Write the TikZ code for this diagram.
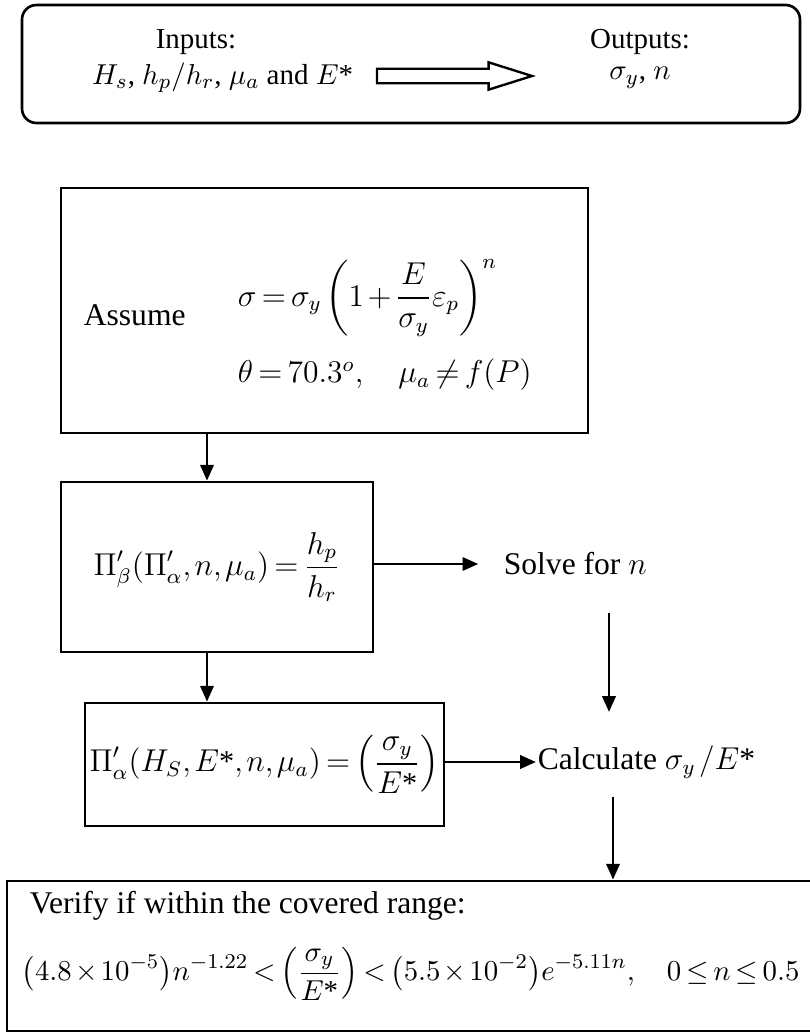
\documentclass[tikz,border=0pt]{standalone}
\usepackage{amsmath}
\usepackage{fontspec}
\setmainfont{Liberation Serif}
\usetikzlibrary{arrows.meta,positioning,shapes.arrows}

% tighter math spacing, closer to the original's
\thinmuskip=2mu
\medmuskip=2mu plus 1mu
\thickmuskip=3mu plus 2mu

\tikzset{
  box/.style={draw,line width=1pt,inner sep=0pt},
  lbl/.style={inner sep=0.5pt},
  small/.style={font=\fontsize{11}{13}\selectfont},
  arr/.style={line width=1.1pt,-{Triangle[length=6pt,width=5pt]}}
}

\begin{document}
\begin{tikzpicture}[x=0.38pt,y=-0.38pt,font=\fontsize{12}{14}\selectfont]
    \useasboundingbox (0,0) rectangle (809,1032);

    % Inputs and outputs
    \node[box,rounded corners=5.5pt,minimum width=778*0.38pt,minimum height=118*0.38pt] (io) at (411,64) {};
    \node[lbl,small] (inlbl) at (196,42) {Inputs:};
    \node[lbl,small,anchor=east] (inval) at (355,78) {$H_s$, $h_p/h_r$, $\mu_a$ and $E$*};
    \node[single arrow,draw,line width=0.9pt,inner sep=2.3pt,single arrow head extend=2.45pt,
          single arrow tip angle=35,minimum height=155*0.38pt] (bigarr) at (443,76) {};
    \node[lbl,small] (outlbl) at (640,42) {Outputs:};
    \node[lbl,small] (outval) at (640,78) {$\sigma_y$, $n$};

    % Assumptions
    \node[box,minimum width=527*0.38pt,minimum height=245*0.38pt] (assume) at (324.5,310.5) {};
    \node[lbl,anchor=west] (asmtxt) at (82,315) {Assume};
    \node[lbl,anchor=west] (law) at (236,298) {$\displaystyle \sigma=\sigma_y\left(1+\frac{E}{\sigma_y}\varepsilon_p\right)^{n}$};
    \node[lbl,anchor=west] (cond) at (236,375) {$\theta=70.3^{o},\quad \mu_a\neq f(P)$};

    % Pi functions
    \node[box,minimum width=312*0.38pt,minimum height=170*0.38pt] (pib) at (217,567)
        {$\displaystyle \Pi'_\beta(\Pi'_\alpha,n,\mu_a)=\frac{h_p}{h_r}$};
    \node[box,font=\fontsize{11.5}{13}\selectfont,minimum width=359*0.38pt,minimum height=123*0.38pt] (pia) at (264.5,764.5)
        {$\displaystyle \Pi'_\alpha(H_S,E\text{*},n,\mu_a)=\left(\frac{\sigma_y}{E\text{*}}\right)$};

    \node[lbl,anchor=west] (solve) at (502,564) {Solve for $n$};
    \node[lbl,anchor=west] (calc) at (536,762) {Calculate $\sigma_y\,/E$*};

    % Range check
    \node[box,minimum width=808*0.38pt,minimum height=150*0.38pt] (check) at (411,956) {};
    \node[lbl,anchor=west] (chk1) at (28,906) {Verify if within the covered range:};
    \node[lbl,small,anchor=west] (chk2) at (20,974) {$\displaystyle \bigl(4.8\times10^{-5}\bigr)n^{-1.22}<\left(\frac{\sigma_y}{E\text{*}}\right)<\bigl(5.5\times10^{-2}\bigr)e^{-5.11n},\quad 0\le n\le 0.5$};

    % Arrows
    \coordinate (x1) at (207,0);
    \draw[arr] (assume.south -| x1) -- (pib.north -| x1);
    \draw[arr] (pib.south -| x1) -- (pia.north -| x1);
    \draw[arr] (pib.east |- solve) -- ([xshift=-9pt]solve.west);
    \draw[arr] (pia.east |- calc) -- (calc.west);
    \coordinate (n1) at (609,613);
    \coordinate (n2) at (609,712);
    \draw[arr] (n1) -- (n2);
    \coordinate (c1) at (613,797);
    \draw[arr] (c1) -- (check.north -| c1);
\end{tikzpicture}
\end{document}
